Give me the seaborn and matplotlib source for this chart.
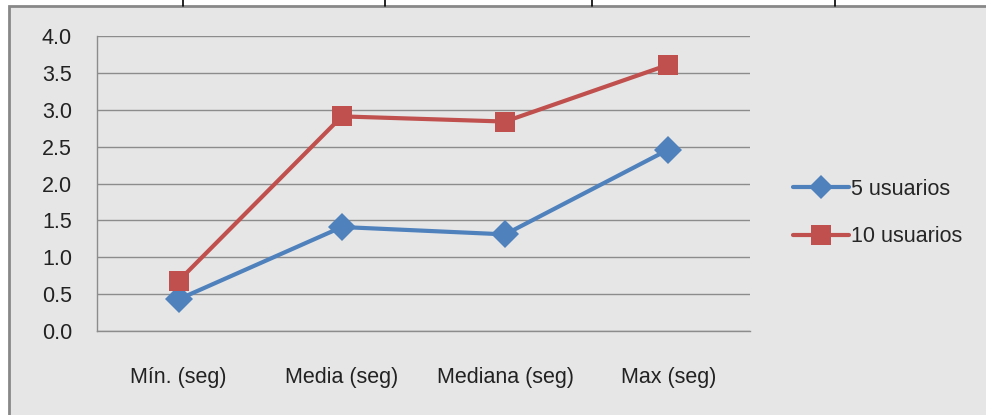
import matplotlib
matplotlib.use("Agg")

import matplotlib.pyplot as plt
import matplotlib.patches as mpatches
from matplotlib.lines import Line2D
import pandas as pd
import seaborn as sns

# ── Data ───────────────────────────────────────────────────────────────
categories = ["Mín. (seg)", "Media (seg)", "Mediana (seg)", "Max (seg)"]
series_names = ["5 usuarios", "10 usuarios"]
usuarios_5 = [0.43, 1.41, 1.31, 2.46]
usuarios_10 = [0.68, 2.91, 2.84, 3.61]

BLUE = "#4F81BD"
RED = "#C0504D"
BG = "#E6E6E6"
GRID = "#8C8C8C"

df = pd.DataFrame({
    "cat": categories * 2,
    "pos": list(range(len(categories))) * 2,
    "value": usuarios_5 + usuarios_10,
    "serie": [series_names[0]] * 4 + [series_names[1]] * 4,
})

sns.set_style("white")
plt.rcParams["font.family"] = ["Liberation Sans", "DejaVu Sans"]

W, H = 987, 415
fig = plt.figure(figsize=(W / 100, H / 100), dpi=100)
fig.patch.set_facecolor("white")

# gray panel with border (left and top visible)
fig.patches.append(mpatches.Rectangle(
    (9 / W, -0.05), 1.05, 1 - 6 / H + 0.05, transform=fig.transFigure,
    facecolor=BG, edgecolor="#888888", linewidth=2, zorder=-10))
# tick marks of the table above
for xp in [183, 385, 592, 835]:
    fig.add_artist(Line2D([xp / W, xp / W], [1 - 6 / H, 1], transform=fig.transFigure,
                          color="black", linewidth=1.2))

ax = fig.add_axes([97 / W, 1 - 331 / H, (750 - 97) / W, (331 - 36) / H])
ax.set_zorder(1)
ax.set_facecolor(BG)

sns.lineplot(data=df, x="pos", y="value", hue="serie", style="serie",
             palette=[BLUE, RED], markers=["D", "s"], dashes=False,
             linewidth=3, markeredgewidth=0, ax=ax, legend=False)
# Excel-like marker sizes per series
ax.lines[0].set_markersize(14)
ax.lines[1].set_markersize(15)

ax.set_xlim(-0.5, len(categories) - 0.5)
ax.set_ylim(0, 4.0)
ax.set_yticks([i * 0.5 for i in range(9)])
ax.set_yticklabels([f"{i * 0.5:.1f}" for i in range(9)])
ax.set_xticks(range(len(categories)))
ax.set_xticklabels(categories)
ax.set_xticks([i - 0.5 for i in range(len(categories) + 1)], minor=True)
ax.tick_params(axis="x", which="major", length=0, pad=26, labelsize=15.5, colors="#222222")
ax.tick_params(axis="x", which="minor", length=7, width=1, color=GRID, direction="out")
ax.tick_params(axis="y", length=8, width=1, color=GRID, pad=10, labelsize=15.5,
               labelcolor="#222222", direction="out")
ax.set_xlabel("")
ax.set_ylabel("")
ax.grid(axis="y", color=GRID, linewidth=1)
ax.set_axisbelow(True)
for side in ["top", "right"]:
    ax.spines[side].set_visible(False)
for side in ["left", "bottom"]:
    ax.spines[side].set_color(GRID)
    ax.spines[side].set_linewidth(1)

handles = [
    Line2D([], [], color=BLUE, marker="D", markersize=12, linewidth=3, markeredgewidth=0),
    Line2D([], [], color=RED, marker="s", markersize=14, linewidth=3, markeredgewidth=0),
]
fig.legend(handles, series_names, loc="center left", bbox_to_anchor=(782 / W, 1 - 213 / H),
           frameon=False, fontsize=15.5, handlelength=2.6, handletextpad=0.1,
           labelspacing=1.25, borderpad=0)

fig.savefig("out.png", dpi=100, facecolor="white")
